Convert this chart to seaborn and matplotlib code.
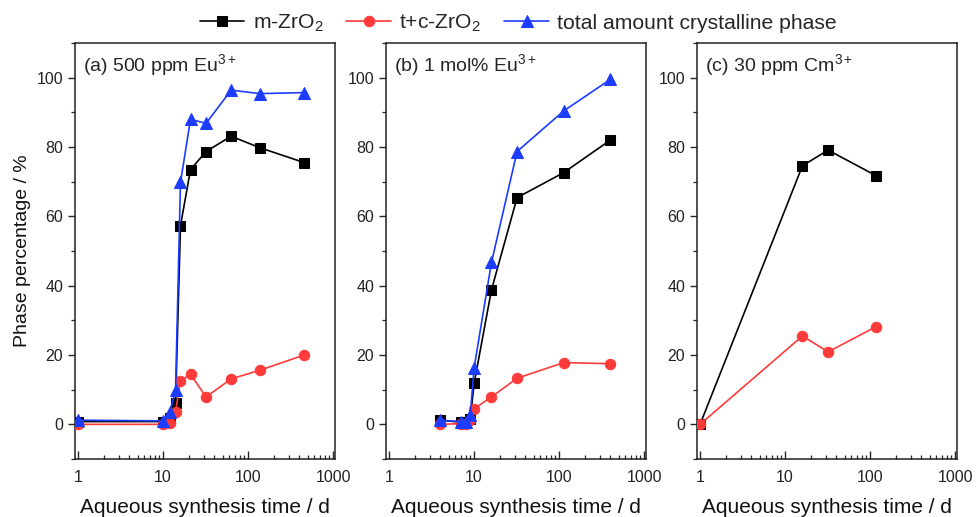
import numpy as np
import pandas as pd
import matplotlib
matplotlib.use("Agg")
import matplotlib.pyplot as plt
from matplotlib.ticker import LogLocator, MultipleLocator, NullFormatter
import seaborn as sns

# series names
series_names = ["m-ZrO$_2$", "t+c-ZrO$_2$", "total amount crystalline phase"]

# (a) 500 ppm Eu3+
time_a = [1, 10, 12, 14, 16, 21, 32, 63, 137, 457]
mono_a = [0.8, 0.8, 1.7, 6.2, 57.3, 73.5, 78.7, 83.1, 79.8, 75.5]
tetra_a = [0.0, 0.0, 0.3, 3.6, 12.6, 14.4, 7.9, 13.1, 15.6, 20.0]
total_a = [1.2, 1.0, 3.6, 9.8, 69.8, 88.0, 86.8, 96.4, 95.4, 95.7]

# (b) 1 mol% Eu3+
time_b = [4, 7, 8, 9, 10, 16, 32, 113, 400]
mono_b = [1.2, 0.6, 0.5, 1.4, 11.8, 38.8, 65.4, 72.6, 82.0]
tetra_b = [0.0, 0.2, 0.2, 1.2, 4.5, 7.9, 13.3, 17.8, 17.5]
total_b = [1.2, 0.8, 0.7, 2.6, 16.3, 46.7, 78.7, 90.4, 99.5]

# (c) 30 ppm Cm3+
time_c = [1, 16, 32, 118]
mono_c = [0.0, 74.6, 79.1, 71.7]
tetra_c = [0.0, 25.5, 20.9, 28.2]

panel_titles = ["(a) 500 ppm Eu$^{3+}$", "(b) 1 mol% Eu$^{3+}$", "(c) 30 ppm Cm$^{3+}$"]

colors = {series_names[0]: "#000000", series_names[1]: "#ff3a3a", series_names[2]: "#1c3cff"}
markers = {series_names[0]: "s", series_names[1]: "o", series_names[2]: "^"}
msizes = {series_names[0]: 6.5, series_names[1]: 7.5, series_names[2]: 8.5}


def make_frame(t, ys):
    rows = []
    for name, y in zip(series_names, ys):
        for ti, yi in zip(t, y):
            rows.append({"time": ti, "value": yi, "series": name})
    return pd.DataFrame(rows)


sns.set_style("white")
plt.rcParams["font.family"] = ["Liberation Sans", "DejaVu Sans"]
plt.rcParams["mathtext.fontset"] = "custom"
plt.rcParams["mathtext.rm"] = "Liberation Sans"
plt.rcParams["mathtext.it"] = "Liberation Sans:italic"

fig = plt.figure(figsize=(9.76, 5.17), dpi=100)
lefts = [75 / 976, 386 / 976, 697 / 976]
width = 260 / 976
bottom = 1 - 459 / 517
height = 416 / 517

panels = [
    (time_a, [mono_a, tetra_a, total_a]),
    (time_b, [mono_b, tetra_b, total_b]),
    (time_c, [mono_c, tetra_c]),
]

axes = []
for i, (t, ys) in enumerate(panels):
    ax = fig.add_axes([lefts[i], bottom, width, height])
    axes.append(ax)
    df = make_frame(t, ys)
    for name in series_names[:len(ys)]:
        sub = df[df["series"] == name]
        sns.lineplot(data=sub, x="time", y="value", ax=ax, color=colors[name],
                     marker=markers[name], markersize=msizes[name],
                     markeredgecolor=colors[name], linewidth=1.2,
                     label=name, legend=False, zorder=3 + series_names.index(name))
    ax.set_xscale("log")
    ax.set_xlim(0.92, 1050)
    ax.set_ylim(-10, 110)
    ax.xaxis.set_minor_locator(LogLocator(base=10, subs=np.arange(2, 10), numticks=20))
    ax.xaxis.set_minor_formatter(NullFormatter())
    ax.set_xticks([1, 10, 100, 1000])
    ax.set_xticklabels(["1", "10", "100", "1000"])
    ax.yaxis.set_major_locator(MultipleLocator(20))
    ax.yaxis.set_minor_locator(MultipleLocator(10))
    ax.tick_params(axis="x", which="major", direction="in", length=6, width=1.0,
                   labelsize=11.5, pad=8, bottom=True, labelcolor="#222222")
    ax.tick_params(axis="x", which="minor", direction="in", length=3, width=0.9, bottom=True)
    ax.tick_params(axis="y", which="major", direction="out", length=5, width=1.0,
                   labelsize=11.5, left=True, labelcolor="#222222")
    ax.tick_params(axis="y", which="minor", direction="out", length=3, width=0.9, left=True)
    for sp in ax.spines.values():
        sp.set_visible(True)
        sp.set_color("#222222")
        sp.set_linewidth(1.1)
    ax.set_xlabel("Aqueous synthesis time / d", fontsize=15, labelpad=9, color="#111111")
    ax.set_ylabel("")
    ax.text(0.03, 0.978, panel_titles[i], transform=ax.transAxes, fontsize=14,
            ha="left", va="top")

axes[0].set_ylabel("Phase percentage / %", fontsize=14, labelpad=4, color="#111111")

handles, labels = axes[0].get_legend_handles_labels()
fig.legend(handles, labels, loc="center", bbox_to_anchor=(0.531, 0.955), ncol=3,
           frameon=False, fontsize=15.2, handlelength=2.1, columnspacing=1.1,
           handletextpad=0.4, borderaxespad=0)

fig.savefig("out.png", dpi=100)
